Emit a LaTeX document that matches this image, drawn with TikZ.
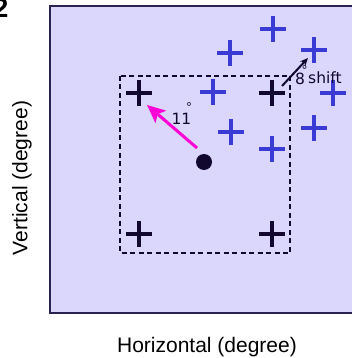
\documentclass[tikz,border=0pt]{standalone}
\usepackage{fontspec}
\setmainfont{Liberation Sans}
\newfontfamily\labfont{DejaVu Sans}
\usetikzlibrary{arrows.meta}
\definecolor{bgfill}{RGB}{218,214,252}
\definecolor{frame}{RGB}{40,35,80}
\definecolor{bluemark}{RGB}{58,58,212}
\definecolor{darkmark}{RGB}{18,8,45}
\definecolor{magentaarrow}{RGB}{255,0,215}
\tikzset{
  plusmark/.style={minimum size=26pt, inner sep=0pt, outer sep=0pt,
    path picture={\draw[line width=3.8pt,#1]
      (path picture bounding box.west) -- (path picture bounding box.east)
      (path picture bounding box.north) -- (path picture bounding box.south);}},
  axislabel/.style={font=\fontsize{21}{24}\selectfont, inner sep=0pt},
  smalllabel/.style={font=\labfont\fontsize{15.5}{17}\selectfont, inner sep=0pt, text=darkmark},
  degsign/.style={font=\labfont\fontsize{12}{14}\selectfont, inner sep=0pt, text=darkmark},
}
\begin{document}
\begin{tikzpicture}[x=1pt,y=-1pt]
\useasboundingbox (0,0) rectangle (352,358);
% panel
\draw[fill=bgfill, draw=frame, line width=1.5pt] (50,6) rectangle (360,313);
% panel letter (cropped)
\node[anchor=base east, inner sep=0pt, font=\bfseries\fontsize{27}{30}\selectfont] (letter) at (8.5,18) {2};
% dashed window
\draw[dashed, dash pattern=on 5pt off 3.5pt, line width=2pt, draw=darkmark] (120,76) rectangle (290,253);
% blue pluses
\node[plusmark=bluemark] (u1) at (273,29) {};
\node[plusmark=bluemark] (u2) at (230,53) {};
\node[plusmark=bluemark] (u3) at (314,50) {};
\node[plusmark=bluemark] (u4) at (213,92) {};
\node[plusmark=bluemark] (u5) at (333,93) {};
\node[plusmark=bluemark] (u6) at (231,132) {};
\node[plusmark=bluemark] (u7) at (314,128) {};
\node[plusmark=bluemark] (u8) at (272,149) {};
% dark pluses
\node[plusmark=darkmark] (d1) at (139,93) {};
\node[plusmark=darkmark] (d2) at (272,93) {};
\node[plusmark=darkmark] (d3) at (139,234) {};
\node[plusmark=darkmark] (d4) at (272,234) {};
% fixation dot
\node[circle, fill=darkmark, minimum size=16pt, inner sep=0pt] (dot) at (204,162) {};
% magenta arrow
\coordinate (mtail) at (197,148);
\coordinate (mtip) at (147,105);
\draw[magentaarrow, line width=3pt, -{Stealth[length=18pt,width=16pt,inset=4pt]}] (mtail) -- (mtip);
\node[smalllabel] (elev) at (181.5,118.5) {11};
\node[degsign] (elevdeg) at (189,107) {°};
% black shift arrow
\coordinate (stail) at (282,86);
\coordinate (stip) at (308,58);
\draw[darkmark, line width=2pt, -{Stealth[length=8pt,width=7pt]}] (stail) -- (stip);
\node[smalllabel] (eight) at (300,78.5) {8};
\node[degsign] (eightdeg) at (304.5,70) {°};
\node[smalllabel, anchor=base west] (shift) at (308,84) {shift};
% axis labels
\node[axislabel] (hlab) at (207,347) {Horizontal (degree)};
\node[axislabel, rotate=90] (vlab) at (22,178) {Vertical (degree)};
\end{tikzpicture}
\end{document}
